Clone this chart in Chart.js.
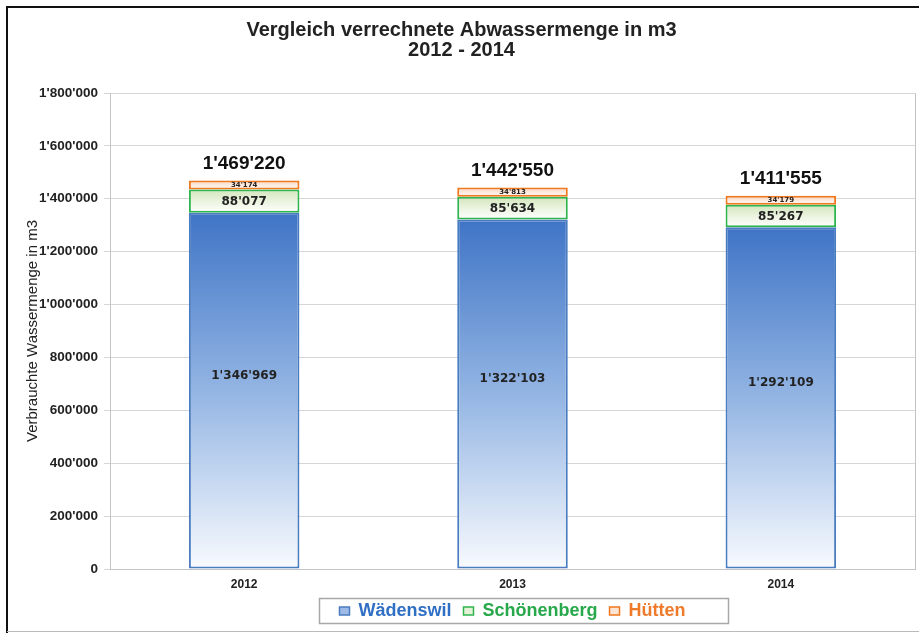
<!DOCTYPE html>
<html>
<head>
<meta charset="utf-8">
<script src="https://cdn.jsdelivr.net/npm/chart.js@4/dist/chart.umd.min.js"></script>
<style>
html,body{margin:0;padding:0;background:#fff;}
#wrap{width:919px;height:633px;position:relative;}
</style>
</head>
<body>
<div id="wrap"><canvas id="c" width="919" height="633"></canvas></div>
<script>
const categories = ['2012', '2013', '2014'];
const seriesNames = ['Wädenswil', 'Schönenberg', 'Hütten'];
const waedenswil = [1346969, 1322103, 1292109];
const schoenenberg = [88077, 85634, 85267];
const huetten = [34174, 34813, 34179];
const totals = [1469220, 1442550, 1411555];
const yMin = 0, yMax = 1800000, yStep = 200000;

const stacks = [waedenswil, schoenenberg, huetten];
const borderColors = ['#4a7cc0', '#2fb54e', '#f0781e'];
const topColors = ['#3f74c6', '#d3e6bc', '#fad3bd'];
const midColors = ['#93b5e3', '#eaf3df', '#fde9de'];
const bottomColors = ['#f8fafe', '#ffffff', '#ffffff'];
const textColors = ['#2f6fc4', '#27a84a', '#ef7b2a'];
const legendFill = ['#9dbbe6', '#e6f2d8', '#fde4d3'];

const fmt = n => String(n).replace(/\B(?=(\d{3})+(?!\d))/g, "'");
const FONT = "'Liberation Sans', Arial, sans-serif";

function segGradient(d) {
  return function (ctx) {
    const chart = ctx.chart;
    if (!chart.chartArea || ctx.type !== 'data') return midColors[d];
    const y = chart.scales.y;
    const i = ctx.dataIndex;
    let start = 0;
    for (let k = 0; k < d; k++) start += stacks[k][i];
    const end = start + stacks[d][i];
    const top = y.getPixelForValue(end), bot = y.getPixelForValue(start);
    if (!isFinite(top) || !isFinite(bot) || top === bot) return midColors[d];
    const g = chart.ctx.createLinearGradient(0, top, 0, bot);
    g.addColorStop(0, topColors[d]);
    g.addColorStop(0.5, midColors[d]);
    g.addColorStop(1, bottomColors[d]);
    return g;
  };
}

const datasets = stacks.map((arr, d) => ({
  label: seriesNames[d],
  data: arr,
  backgroundColor: segGradient(d),
  borderColor: borderColors[d],
  borderWidth: 2,
  borderSkipped: false,
  stack: 's'
}));

const framePlugin = {
  id: 'frame',
  beforeDraw(chart) {
    const c = chart.ctx;
    c.save();
    c.fillStyle = '#fff';
    c.fillRect(0, 0, chart.width, chart.height);
    c.restore();
  },
  beforeDatasetsDraw(chart) {
    const c = chart.ctx, a = chart.chartArea;
    c.save();
    c.strokeStyle = '#c4c4c4';
    c.lineWidth = 1;
    c.beginPath();
    c.moveTo(a.right + 0.5, a.top);
    c.lineTo(a.right + 0.5, a.bottom);
    c.stroke();
    c.restore();
  },
  afterDraw(chart) {
    const c = chart.ctx;
    c.save();
    c.strokeStyle = '#111';
    c.lineWidth = 2;
    c.beginPath();
    c.moveTo(7, 633);
    c.lineTo(7, 7);
    c.lineTo(919, 7);
    c.stroke();
    c.strokeStyle = '#bbbbbb';
    c.lineWidth = 1;
    c.beginPath();
    c.moveTo(7, 631.5);
    c.lineTo(919, 631.5);
    c.stroke();
    const lg = chart.legend;
    if (lg && lg.legendHitBoxes && lg.legendHitBoxes.length) {
      const hb = lg.legendHitBoxes;
      let minX = Infinity, maxX = -Infinity, minY = Infinity, maxY = -Infinity;
      hb.forEach(h => {
        minX = Math.min(minX, h.left); maxX = Math.max(maxX, h.left + h.width);
        minY = Math.min(minY, h.top); maxY = Math.max(maxY, h.top + h.height);
      });
      const cy = (minY + maxY) / 2;
      c.strokeStyle = '#a8a8a8';
      c.lineWidth = 1.5;
      c.strokeRect(Math.round(minX - 20) + 0.5, Math.round(cy - 13) + 0.5, Math.round(maxX - minX + 63), 25);
    }
    c.restore();
  },
  afterDatasetsDraw(chart) {
    const c = chart.ctx;
    c.save();
    c.textAlign = 'center';
    c.textBaseline = 'middle';
    const m0 = chart.getDatasetMeta(0), m1 = chart.getDatasetMeta(1), m2 = chart.getDatasetMeta(2);
    for (let i = 0; i < categories.length; i++) {
      const b0 = m0.data[i], b1 = m1.data[i], b2 = m2.data[i];
      c.fillStyle = '#222';
      c.font = "bold 12px 'DejaVu Sans', sans-serif";
      c.fillText(fmt(waedenswil[i]), b0.x, (b0.y + b0.base) / 2 - 15);
      c.fillText(fmt(schoenenberg[i]), b1.x, (b1.y + b1.base) / 2 + 1);
      c.font = "bold 7px 'DejaVu Sans', sans-serif";
      c.fillText(fmt(huetten[i]), b2.x, (b2.y + b2.base) / 2);
      c.font = "bold 19px " + FONT;
      c.fillStyle = '#111';
      c.fillText(fmt(totals[i]), b2.x, b2.y - 17);
    }
    c.restore();
  }
};

new Chart(document.getElementById('c'), {
  type: 'bar',
  data: { labels: categories, datasets },
  plugins: [framePlugin],
  options: {
    responsive: false,
    animation: false,
    devicePixelRatio: 1,
    layout: { padding: { top: 10, left: 8, right: 4, bottom: 3 } },
    datasets: { bar: { categoryPercentage: 1, barPercentage: 0.412 } },
    scales: {
      x: {
        stacked: true,
        afterFit(scale) { scale.height = 21; },
        grid: { display: false, tickLength: 8 },
        border: { color: '#c4c4c4' },
        ticks: { color: '#222', font: { family: FONT, size: 12, weight: 'bold' }, padding: 0 }
      },
      y: {
        stacked: true,
        min: yMin, max: yMax,
        afterFit(scale) { scale.width = 102; },
        grid: { color: '#d6d6d6', tickLength: 6 },
        border: { color: '#c4c4c4' },
        ticks: {
          stepSize: yStep,
          padding: 6,
          color: '#222',
          font: { family: FONT, size: 13.5, weight: 'bold' },
          callback: v => fmt(v)
        },
        title: {
          display: true,
          text: 'Verbrauchte Wassermenge in m3',
          color: '#222',
          font: { family: FONT, size: 15 },
          padding: { top: 16, bottom: 4 }
        }
      }
    },
    plugins: {
      title: {
        display: true,
        text: ['Vergleich verrechnete Abwassermenge in m3', '2012 - 2014'],
        color: '#222',
        font: { family: FONT, size: 20, weight: 'bold', lineHeight: 1.0 },
        padding: { top: 10, bottom: 33 }
      },
      legend: {
        position: 'bottom',
        fullSize: false,
        labels: {
          boxWidth: 10,
          boxHeight: 8,
          padding: 12,
          font: { family: FONT, size: 18, weight: 'bold' },
          generateLabels(chart) {
            return seriesNames.map((n, d) => ({
              text: n,
              fillStyle: legendFill[d],
              strokeStyle: borderColors[d],
              lineWidth: 1.5,
              fontColor: textColors[d],
              hidden: false,
              datasetIndex: d
            }));
          }
        }
      },
      tooltip: { enabled: false }
    }
  }
});
</script>
</body>
</html>
